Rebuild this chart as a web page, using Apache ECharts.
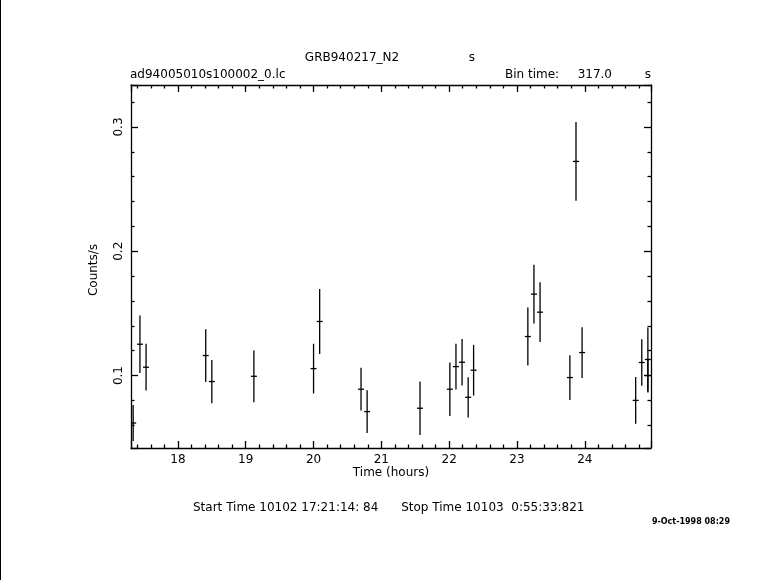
<!DOCTYPE html>
<html>
<head>
<meta charset="utf-8">
<script src="https://cdn.jsdelivr.net/npm/echarts@6/dist/echarts.min.js"></script>
<style>html,body{margin:0;padding:0;background:#fff}#c{width:781px;height:580px}</style>
</head>
<body>
<div id="c"></div>
<script>
// ---- data ----
const times  = [17.34, 17.44, 17.53, 18.41, 18.50, 19.12, 20.00, 20.09, 20.70, 20.79, 21.57, 22.01, 22.10, 22.19, 22.28, 22.36, 23.16, 23.25, 23.34, 23.78, 23.87, 23.96, 24.75, 24.84, 24.93, 24.93];
const rates  = [0.0618, 0.1252, 0.1067, 0.1161, 0.0952, 0.0994, 0.1056, 0.1435, 0.0890, 0.0710, 0.0737, 0.0890, 0.1072, 0.1107, 0.0825, 0.1043, 0.1314, 0.1655, 0.1510, 0.0984, 0.2723, 0.1185, 0.0800, 0.1105, 0.1129, 0.1000];
const errors = [0.0145, 0.0231, 0.0188, 0.0212, 0.0174, 0.0208, 0.0200, 0.0261, 0.0172, 0.0172, 0.0216, 0.0216, 0.0184, 0.0187, 0.0162, 0.0204, 0.0233, 0.0237, 0.0240, 0.0180, 0.0317, 0.0204, 0.0188, 0.0188, 0.0257, 0.0137];
const binTimeSec = 317.0;
const xRange = [17.308, 24.976];
const yRange = [0.0417, 0.3338];
const titleText = 'GRB940217_N2';
const fileText = 'ad94005010s100002_0.lc';
const startStopText = 'Start Time 10102 17:21:14: 84      Stop Time 10103  0:55:33:821';
const stampText = '9-Oct-1998 08:29';

const binHalf = binTimeSec / 3600 / 2;
const data = times.map((t, i) => [t, rates[i], errors[i]]);

const chart = echarts.init(document.getElementById('c'), null, {renderer: 'canvas'});
const FONT = 'DejaVu Sans';
const LW = 1.3;

function renderItem(params, api) {
  const x = api.value(0), y = api.value(1), e = api.value(2);
  const top = api.coord([x, y + e]), bot = api.coord([x, y - e]);
  const l = api.coord([x - binHalf, y]), r = api.coord([x + binHalf, y]);
  return {type: 'group', children: [
    {type: 'line', shape: {x1: top[0], y1: top[1], x2: bot[0], y2: bot[1]}, style: {stroke: '#000', lineWidth: LW}},
    {type: 'line', shape: {x1: l[0], y1: l[1], x2: r[0], y2: r[1]}, style: {stroke: '#000', lineWidth: LW}}
  ]};
}

const axisCommon = {
  axisLine: {show: true, lineStyle: {color: '#000', width: LW}},
  axisTick: {show: true, inside: true, length: 7, lineStyle: {color: '#000', width: LW}},
  minorTick: {show: true, splitNumber: 5, length: 3.5, lineStyle: {color: '#000', width: LW}},
  splitLine: {show: false},
  minorSplitLine: {show: false}
};

const xBase = {type: 'value', min: xRange[0], max: xRange[1], splitNumber: 8, minInterval: 1, maxInterval: 1};
const yBase = {type: 'value', min: yRange[0], max: yRange[1], splitNumber: 3, minInterval: 0.1, maxInterval: 0.1};

chart.setOption({
  animation: false,
  backgroundColor: '#fff',
  grid: {left: 131, top: 85, width: 520, height: 363, show: false},
  xAxis: [
    Object.assign({}, xBase, axisCommon, {position: 'bottom',
      axisLabel: {show: true, color: '#000', fontFamily: FONT, fontSize: 12, margin: 6, showMinLabel: false, showMaxLabel: false}}),
    Object.assign({}, xBase, axisCommon, {position: 'top', axisLabel: {show: false}})
  ],
  yAxis: [
    Object.assign({}, yBase, axisCommon, {position: 'left',
      axisLabel: {show: true, color: '#000', fontFamily: FONT, fontSize: 12, rotate: 90, margin: 6, showMinLabel: false, showMaxLabel: false}}),
    Object.assign({}, yBase, axisCommon, {position: 'right', axisLabel: {show: false}})
  ],
  series: [{
    type: 'custom',
    xAxisIndex: 0, yAxisIndex: 0,
    renderItem: renderItem,
    clip: true,
    data: data
  }],
  graphic: [
    {type: 'line', shape: {x1: 0.5, y1: 0, x2: 0.5, y2: 580}, style: {stroke: '#000', lineWidth: 1}},
    {type: 'text', x: 352, y: 58, style: {text: titleText, font: '12px ' + FONT, fill: '#000', textAlign: 'center', textVerticalAlign: 'middle'}},
    {type: 'text', x: 472, y: 58, style: {text: 's', font: '12px ' + FONT, fill: '#000', textAlign: 'center', textVerticalAlign: 'middle'}},
    {type: 'text', x: 130, y: 75, style: {text: fileText, font: '12px ' + FONT, fill: '#000', textAlign: 'left', textVerticalAlign: 'middle'}},
    {type: 'text', x: 505, y: 75, style: {text: 'Bin time:', font: '12px ' + FONT, fill: '#000', textAlign: 'left', textVerticalAlign: 'middle'}},
    {type: 'text', x: 612, y: 75, style: {text: binTimeSec.toFixed(1), font: '12px ' + FONT, fill: '#000', textAlign: 'right', textVerticalAlign: 'middle'}},
    {type: 'text', x: 648, y: 75, style: {text: 's', font: '12px ' + FONT, fill: '#000', textAlign: 'center', textVerticalAlign: 'middle'}},
    {type: 'text', x: 94, y: 270, rotation: Math.PI / 2, style: {text: 'Counts/s', font: '12px ' + FONT, fill: '#000', textAlign: 'center', textVerticalAlign: 'middle'}},
    {type: 'text', x: 391, y: 473, style: {text: 'Time (hours)', font: '12px ' + FONT, fill: '#000', textAlign: 'center', textVerticalAlign: 'middle'}},
    {type: 'text', x: 193, y: 508, style: {text: startStopText, font: '12px ' + FONT, fill: '#000', textAlign: 'left', textVerticalAlign: 'middle'}},
    {type: 'text', x: 730, y: 522, style: {text: stampText, font: 'bold 8px ' + FONT, fill: '#000', textAlign: 'right', textVerticalAlign: 'middle'}}
  ]
});
</script>
</body>
</html>
